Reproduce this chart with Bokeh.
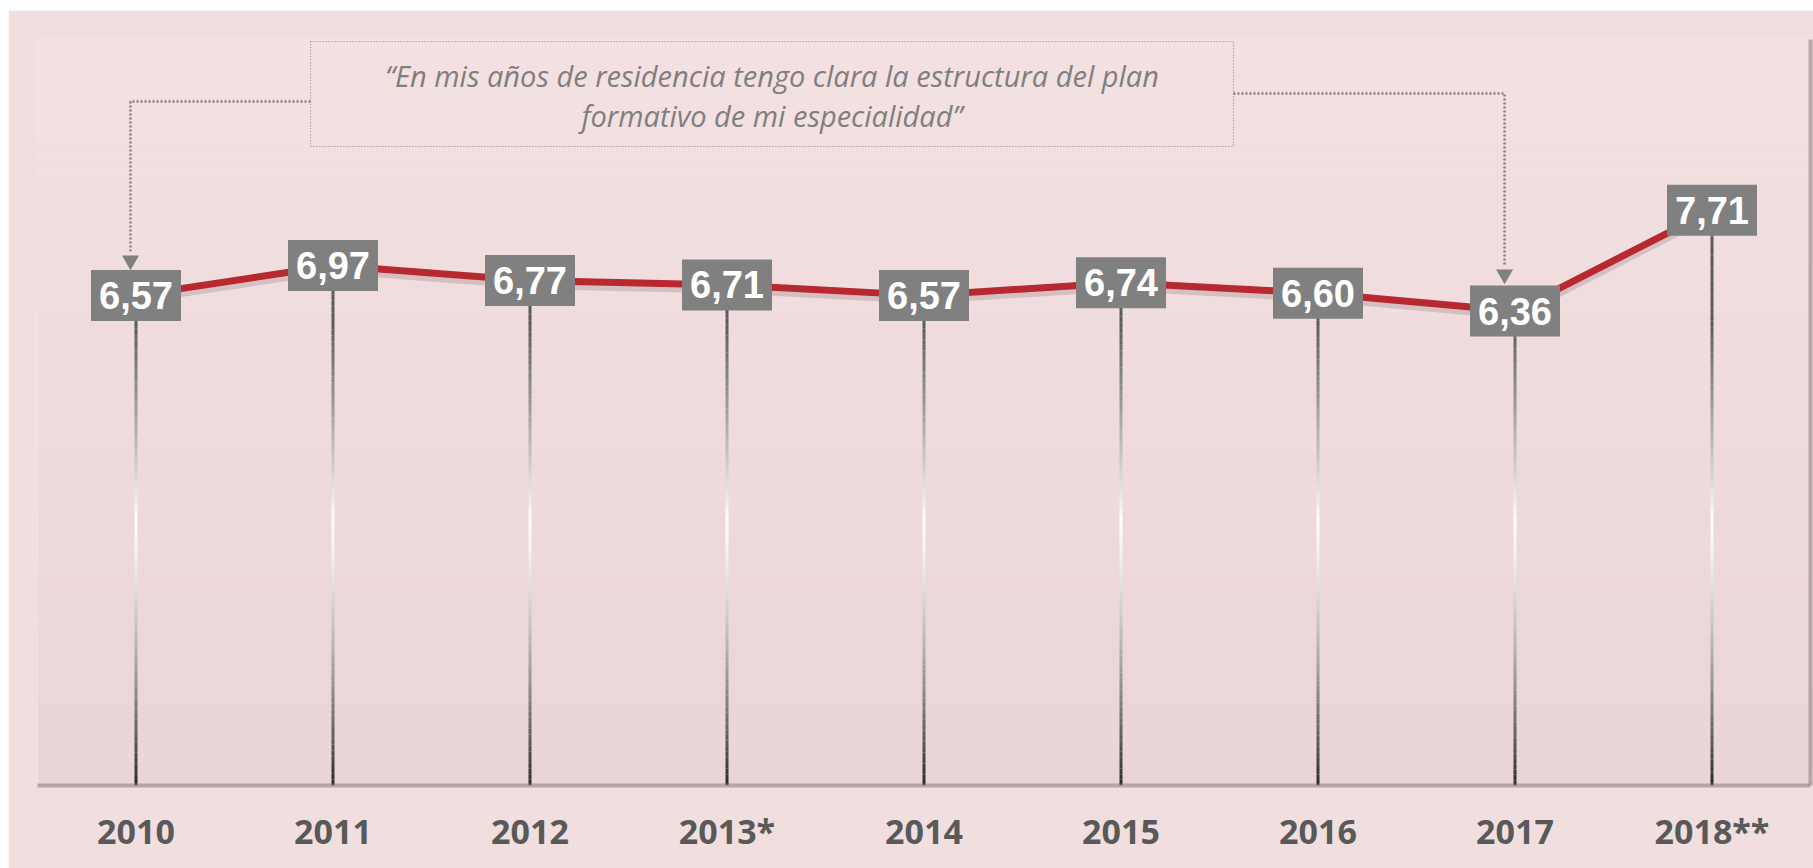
import numpy as np
from bokeh.plotting import figure
from bokeh.models import ColumnDataSource, LinearAxis, Range1d, FactorRange, FixedTicker
from bokeh.core.properties import value
from bokeh.embed import file_html
from bokeh.resources import INLINE

# ---------------- data ----------------
categories = ["2010", "2011", "2012", "2013*", "2014", "2015", "2016", "2017", "2018**"]
values = [6.57, 6.97, 6.77, 6.71, 6.57, 6.74, 6.60, 6.36, 7.71]
value_labels = ["6,57", "6,97", "6,77", "6,71", "6,57", "6,74", "6,60", "6,36", "7,71"]
quote_lines = ["\u201cEn mis a\u00f1os de residencia tengo clara la estructura del plan",
               "formativo de mi especialidad\u201d"]
pointed = ["2010", "2017"]   # categories the quote's connectors point at

# ---------------- figure ----------------
W, H = 1805, 858
p = figure(width=W, height=H,
           x_range=FactorRange(factors=categories, range_padding=0),
           y_range=Range1d(0, 10),
           output_backend="svg", toolbar_location=None,
           y_axis_location=None,
           min_border_left=29, min_border_top=29, min_border_right=3, min_border_bottom=83)
p.margin = (10, 0, 0, 8)
p.grid.visible = False
p.outline_line_color = None
p.border_fill_color = "#f1dedf"
p.background_fill_color = "#efdbdc"

# vertical gradient of the plot area (decoration)
n = 60
edges = np.linspace(0, 10, n + 1)
c_top = np.array([0xf4, 0xe1, 0xe2])
c_bot = np.array([0xea, 0xd5, 0xd6])
bg_cols = []
for i in range(n):
    t = (edges[i] + edges[i + 1]) / 20.0
    c = c_bot + (c_top - c_bot) * t
    bg_cols.append("#%02x%02x%02x" % tuple(int(round(v)) for v in c))
p.quad(left=0, right=len(categories), bottom=edges[:-1], top=edges[1:],
       fill_color=bg_cols, line_color=None)

# ---------------- stems with gradient ----------------
def lerp(a, b, t):
    return tuple(int(round(a[k] + (b[k] - a[k]) * t)) for k in range(3))

white = (255, 255, 255)
dark_top = (0x5a, 0x5a, 0x5a)
dark_bot = (0x2a, 0x2a, 0x2a)
white_v = 3.6
sx, sy0, sy1, sc = [], [], [], []
for cat, v in zip(categories, values):
    ys = np.linspace(0, v, 90)
    for a, b in zip(ys[:-1], ys[1:]):
        m = (a + b) / 2
        if m > white_v:
            t = min((m - white_v) / (6.2 - white_v), 1.0) ** 0.9
            col = lerp(white, dark_top, t)
        else:
            t = ((white_v - m) / white_v) ** 1.4
            col = lerp(white, dark_bot, t)
        sx.append(cat); sy0.append(a); sy1.append(b)
        sc.append("#%02x%02x%02x" % col)
stem_src = ColumnDataSource(dict(x=sx, y0=sy0, y1=sy1, c=sc))
p.segment(x0="x", y0="y0", x1="x", y1="y1", line_color="c", line_width=3,
          source=stem_src)

# ---------------- line ----------------
src = ColumnDataSource(dict(cat=categories, val=values, lab=value_labels,
                            shadow=[v - 0.06 for v in values]))
p.line(x="cat", y="shadow", source=src, line_color="#6e5a5b", line_alpha=0.22, line_width=8)
p.line(x="cat", y="val", source=src, line_color="#b8292f", line_width=7)

# ---------------- value boxes ----------------
p.rect(x="cat", y="val", width=90, height=51, width_units="screen", height_units="screen",
       fill_color="#808080", line_color=None, source=src)
p.text(x="cat", y="val", text="lab", source=src, text_font=value("Liberation Sans"),
       text_font_style="bold", text_font_size="38px", text_color="white",
       text_align="center", text_baseline="middle")

# ---------------- quote box and connectors ----------------
box_l, box_r, box_b, box_t = 1.386, 6.071, 8.566, 9.973
p.quad(left=[box_l], right=[box_r], bottom=[box_b], top=[box_t], fill_color=None,
       line_color="#8a8a8a", line_width=1.2, line_dash="1 2")
cx = (box_l + box_r) / 2
p.text(x=[cx, cx], y=[9.517, 8.981], text=quote_lines, text_font=value("Open Sans"),
       text_font_style="italic", text_font_size="29px", text_color="#7f7f7f",
       text_align="center", text_baseline="middle")

i0 = categories.index(pointed[0]) + 0.5 - 0.028
i1 = categories.index(pointed[1]) + 0.5 - 0.053
p.line(x=[box_l, i0, i0], y=[9.169, 9.169, 7.16], line_color="#808080",
       line_width=2.5, line_dash="2 2")
p.line(x=[box_r, i1, i1], y=[9.276, 9.276, 6.97], line_color="#808080",
       line_width=2.5, line_dash="2 2")
p.scatter(x=[i0, i1], y=[7.04, 6.85], marker="inverted_triangle", size=17,
          fill_color="#808080", line_color=None)

# ---------------- axes ----------------
ax = p.xaxis[0]
ax.major_label_text_font = "Open Sans"
ax.major_label_text_font_style = "bold"
ax.major_label_text_font_size = "34px"
ax.major_label_text_color = "#595959"
ax.major_tick_line_color = None
ax.minor_tick_line_color = None
ax.axis_line_color = "#8c7879"
ax.axis_line_alpha = 0.55
ax.axis_line_width = 4
ax.major_label_standoff = 16

ra = LinearAxis(ticker=FixedTicker(ticks=[]), major_tick_line_color=None,
                minor_tick_line_color=None, axis_line_color="#8c7879",
                axis_line_alpha=0.55, axis_line_width=4, major_label_standoff=0)
p.add_layout(ra, "right")

open("out.html", "w").write(file_html(p, INLINE))
